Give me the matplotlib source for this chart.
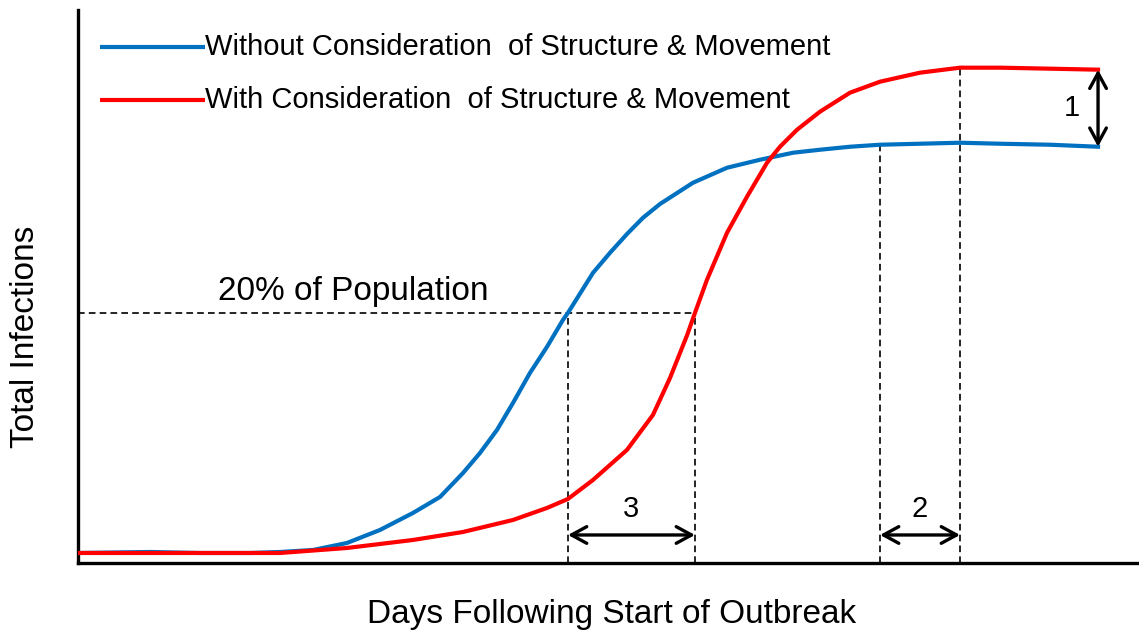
import numpy as np
import matplotlib.pyplot as plt

# curve readings: days since start vs total infections (% of population)
blue_days = [0, 6.79, 11.5, 16.21, 19.04, 22.15, 25.35, 28.46, 31.57, 34.12, 36.29, 37.89,
             39.49, 41.0, 42.6, 44.2, 45.71, 46.18, 48.54, 50.14, 51.74, 53.25, 54.85, 57.96,
             61.17, 64.28, 67.39, 69.93, 72.76, 75.59, 79.36, 83.13, 86.9, 91.61, 96.14]
blue_inf = [0.8, 0.88, 0.8, 0.8, 0.88, 1.04, 1.6, 2.64, 4.0, 5.28, 7.2, 8.8,
            10.64, 12.8, 15.2, 17.28, 19.44, 20.0, 23.2, 24.8, 26.3, 27.6, 28.7, 30.4,
            31.6, 32.24, 32.8, 33.04, 33.28, 33.44, 33.52, 33.6, 33.52, 33.44, 33.28]

red_days = [0, 6.79, 11.5, 19.04, 25.35, 31.57, 36.29, 41.0, 44.2, 46.18, 48.54, 51.74,
            54.19, 55.8, 57.4, 58.15, 59.28, 61.17, 63.05, 64.94, 66.16, 67.77, 69.93,
            72.76, 75.59, 79.36, 83.13, 86.9, 91.61, 96.14]
red_inf = [0.8, 0.8, 0.8, 0.8, 1.2, 1.84, 2.48, 3.44, 4.4, 5.12, 6.64, 9.04,
           11.84, 14.8, 18.2, 20.0, 22.64, 26.4, 29.28, 32.0, 33.28, 34.64, 36.08,
           37.6, 38.48, 39.2, 39.6, 39.6, 39.52, 39.44]

threshold = 20.0
blue_cross, red_cross = 46.18, 58.15     # days each curve reaches 20%
blue_peak_day, red_peak_day = 75.59, 83.13
end_day = 96.14
blue_end, red_end = blue_inf[-1], red_inf[-1]

labels = ['Without Consideration  of Structure & Movement',
          'With Consideration  of Structure & Movement']
colors = ['#0070C0', '#FF0000']

plt.rcParams['font.family'] = ['Liberation Sans', 'DejaVu Sans']

fig = plt.figure(figsize=(11.39, 6.34), dpi=100)
ax = fig.add_axes([0.0685, 0.112, 0.9315, 0.872])
ax.set_xlim(0, 100)
ax.set_ylim(0, 44.2)

ax.plot(blue_days, blue_inf, color=colors[0], lw=3, solid_joinstyle='round', zorder=3)
ax.plot(red_days, red_inf, color=colors[1], lw=3, solid_joinstyle='round', zorder=3)

# dashed guide lines
dash = dict(color='black', lw=1.2, ls=(0, (4, 2.5)), zorder=2)
ax.plot([0, red_cross], [threshold, threshold], **dash)
ax.plot([blue_cross, blue_cross], [0, threshold], **dash)
ax.plot([red_cross, red_cross], [0, threshold], **dash)
ax.plot([blue_peak_day, blue_peak_day], [0, max(blue_inf)], **dash)
ax.plot([red_peak_day, red_peak_day], [0, max(red_inf)], **dash)

arr = dict(arrowstyle='<->,head_length=1.1,head_width=0.6', color='black', lw=2.4,
           shrinkA=0, shrinkB=0)
arrow_y = 2.24
ax.annotate('', xy=(blue_cross, arrow_y), xytext=(red_cross, arrow_y), arrowprops=arr)
ax.annotate('', xy=(blue_peak_day, arrow_y), xytext=(red_peak_day, arrow_y), arrowprops=arr)
ax.annotate('', xy=(end_day, blue_end), xytext=(end_day, red_end), arrowprops=arr)

ax.text((blue_cross + red_cross) / 2, 4.3, '3', fontsize=21, ha='center', va='center')
ax.text((blue_peak_day + red_peak_day) / 2, 4.3, '2', fontsize=21, ha='center', va='center')
ax.text(93.7, (blue_end + red_end) / 2, '1', fontsize=21, ha='center', va='center')
ax.text(25.9, 21.0, '20% of Population', fontsize=24, ha='center', va='baseline')

# hand-placed legend, as in the original figure
leg_y = [0.933, 0.837]
for lab, col, yy in zip(labels, colors, leg_y):
    ax.plot([0.0207, 0.1197], [yy, yy], color=col, lw=3, transform=ax.transAxes,
            solid_capstyle='butt', clip_on=False)
    ax.text(0.1197, yy, lab, fontsize=21, ha='left', va='center', transform=ax.transAxes)

for s in ['top', 'right']:
    ax.spines[s].set_visible(False)
for s in ['left', 'bottom']:
    ax.spines[s].set_linewidth(2.4)
ax.set_xticks([])
ax.set_yticks([])

fig.text(0.5365, 0.030, 'Days Following Start of Outbreak', fontsize=24, ha='center', va='center')
fig.text(0.022, 0.468, 'Total Infections', fontsize=24, ha='center', va='center', rotation=90)

fig.savefig('out.png', dpi=100)
